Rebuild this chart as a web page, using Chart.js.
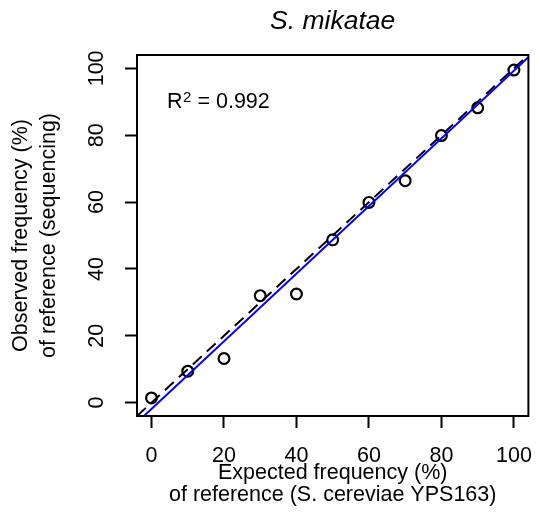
<!DOCTYPE html>
<html>
<head>
<meta charset="utf-8">
<script src="https://cdn.jsdelivr.net/npm/chart.js@4.4.0/dist/chart.umd.min.js"></script>
<style>
  html, body { margin: 0; padding: 0; background: #fff; }
  #wrap { width: 536px; height: 518px; }
</style>
</head>
<body>
<div id="wrap"><canvas id="chart" width="536" height="518"></canvas></div>
<script>
// data
const expected = [0, 10, 20, 30, 40, 50, 60, 70, 80, 90, 100];
const observed = [1.4, 9.4, 13.2, 32.0, 32.5, 48.7, 59.9, 66.4, 79.9, 88.2, 99.5];
const tickValues = [0, 20, 40, 60, 80, 100];
const axisMin = -4, axisMax = 104;
const fitIntercept = -1.9;
const fitSlope = 1.012;
const r2Label = '0.992';
const r2Pos = { x: 4.3, y: 90 };

const FONT = '"Liberation Sans", Arial, Helvetica, sans-serif';
const FS = 21.5;

const points = expected.map((x, i) => ({ x: x, y: observed[i] }));
const identity = [{ x: axisMin, y: axisMin }, { x: axisMax, y: axisMax }];
const fitLine = [axisMin, axisMax].map(x => ({ x: x, y: fitIntercept + fitSlope * x }));

// box, title, rotated y labels, R² text
const extras = {
  id: 'extras',
  afterDatasetsDraw(chart) {
    const { ctx, chartArea: a, scales } = chart;
    ctx.save();
    ctx.strokeStyle = '#000';
    ctx.lineWidth = 2;
    ctx.strokeRect(a.left, a.top, a.right - a.left, a.bottom - a.top);

    ctx.fillStyle = '#000';
    // title
    ctx.font = 'italic 26.5px ' + FONT;
    ctx.textAlign = 'center';
    ctx.textBaseline = 'middle';
    ctx.fillText('S. mikatae', (a.left + a.right) / 2, 22);

    // y tick labels, rotated like R's las=0
    ctx.font = FS + 'px ' + FONT;
    tickValues.forEach(v => {
      const y = scales.y.getPixelForValue(v);
      ctx.save();
      ctx.translate(a.left - 39.5, y);
      ctx.rotate(-Math.PI / 2);
      ctx.fillText(String(v), 0, 0);
      ctx.restore();
    });

    // R² = ...
    let x = scales.x.getPixelForValue(r2Pos.x);
    const y = scales.y.getPixelForValue(r2Pos.y);
    ctx.textAlign = 'left';
    ctx.font = FS + 'px ' + FONT;
    ctx.fillText('R', x, y);
    x += ctx.measureText('R').width + 0.5;
    ctx.font = '15px ' + FONT;
    ctx.fillText('2', x, y - 4);
    x += ctx.measureText('2').width;
    ctx.font = FS + 'px ' + FONT;
    ctx.fillText(' = ' + r2Label, x, y);
    ctx.restore();
  }
};

const setTicks = scale => { scale.ticks = tickValues.map(v => ({ value: v })); };

new Chart(document.getElementById('chart'), {
  type: 'scatter',
  data: {
    datasets: [
      {
        label: 'fit',
        data: fitLine,
        showLine: true,
        borderColor: '#0000ff',
        borderWidth: 2,
        pointRadius: 0,
        order: 1
      },
      {
        label: 'y = x',
        data: identity,
        showLine: true,
        borderColor: '#000',
        borderWidth: 2,
        borderDash: [12, 7],
        pointRadius: 0,
        order: 2
      },
      {
        label: 'observed',
        data: points,
        pointStyle: 'circle',
        pointRadius: 5.4,
        pointBorderWidth: 2.2,
        pointBorderColor: '#000',
        pointBackgroundColor: 'rgba(0,0,0,0)',
        order: 3
      }
    ]
  },
  options: {
    responsive: false,
    animation: false,
    events: [],
    layout: { padding: { top: 55, right: 6, left: 0, bottom: 0 } },
    plugins: { legend: { display: false }, tooltip: { enabled: false }, title: { display: false } },
    scales: {
      x: {
        type: 'linear',
        min: axisMin, max: axisMax,
        afterBuildTicks: setTicks,
        afterFit: s => { s.height = 102; s.paddingLeft = 0; s.paddingRight = 0; },
        border: { display: false },
        grid: { drawOnChartArea: false, drawTicks: true, tickLength: 12, tickWidth: 2, tickColor: '#000' },
        ticks: { color: '#000', padding: 15, maxRotation: 0, font: { family: FONT, size: FS } },
        title: {
          display: true,
          text: ['Expected frequency (%)', 'of reference (S. cereviae YPS163)'],
          color: '#000',
          font: { family: FONT, size: FS, lineHeight: '21.5px' },
          padding: { top: 0, bottom: 12.6 }
        }
      },
      y: {
        type: 'linear',
        min: axisMin, max: axisMax,
        afterBuildTicks: setTicks,
        afterFit: s => { s.width = 137; s.paddingTop = 0; s.paddingBottom = 0; },
        border: { display: false },
        grid: { drawOnChartArea: false, drawTicks: true, tickLength: 12, tickWidth: 2, tickColor: '#000' },
        ticks: { display: false },
        title: {
          display: true,
          text: ['Observed frequency (%)', 'of reference (sequencing)'],
          color: '#000',
          font: { family: FONT, size: FS, lineHeight: '28px' },
          padding: { top: 7.5, bottom: 0 }
        }
      }
    }
  },
  plugins: [extras]
});
</script>
</body>
</html>
